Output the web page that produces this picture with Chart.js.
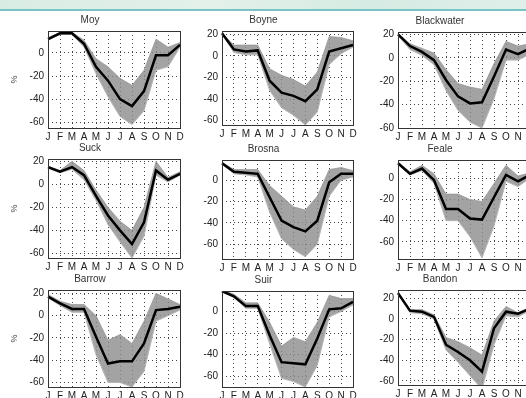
<!DOCTYPE html>
<html lang="en">
<head>
<meta charset="UTF-8">
<title>Monthly change by catchment</title>
<script src="https://cdn.jsdelivr.net/npm/chart.js@4.4.1/dist/chart.umd.min.js"></script>
<style>
    body {
        margin: 0;
        width: 526px;
        height: 398px;
        overflow: hidden;
        background: #fff;
        position: relative;
        font-family: "Liberation Sans", Arial, sans-serif;
    }
    .strip {
        position: absolute;
        left: 0; top: 0;
        width: 526px; height: 9px;
        background: linear-gradient(90deg, #d9ece4, #e3f1ea 40%, #d6ebe3 70%, #dfefe9);
        border-bottom: 2px solid #78c3c5;
    }
    canvas { position: absolute; }
</style>
</head>
<body>
<div class="strip"></div>

<script>
// month labels along every x axis
const months = ['J', 'F', 'M', 'A', 'M', 'J', 'J', 'A', 'S', 'O', 'N', 'D'];
const rivers = ['Moy', 'Boyne', 'Blackwater', 'Suck', 'Brosna', 'Feale', 'Barrow', 'Suir', 'Bandon'];

// black line (ensemble reference), % change per month
const moyMean        = [12, 17, 17, 8, -12, -24, -40, -46, -33, -2, -2, 7];
const boyneMean      = [21, 6, 4, 5, -23, -34, -37, -42, -31, 4, 7, 10];
const blackwaterMean = [20, 10, 5, -2, -19, -33, -39, -38, -16, 7, 3, 8];
const suckMean       = [15, 11, 15, 8, -10, -27, -40, -52, -33, 12, 4, 9];
const brosnaMean     = [16, 8, 7, 6, -16, -38, -44, -48, -38, -2, 6, 6];
const fealeMean      = [14, 4, 9, -2, -29, -29, -38, -39, -18, 3, -3, 3];
const barrowMean     = [17, 11, 6, 6, -19, -43, -41, -41, -25, 5, 6, 8];
const suirMean       = [19, 14, 5, 5, -22, -47, -48, -49, -25, 2, 3, 9];
const bandonMean     = [25, 8, 7, 2, -25, -32, -40, -51, -9, 7, 5, 10];

// upper / lower edges of the grey ensemble bundle
const moyUpper        = [13, 18, 18, 11, -5, -12, -22, -28, -15, 12, 5, 9];
const moyLower        = [11, 16, 16, 5, -18, -38, -55, -62, -50, -15, -12, 5];
const boyneUpper      = [21, 10, 10, 10, -12, -18, -22, -28, -15, 18, 17, 14];
const boyneLower      = [20, 3, 1, 1, -32, -48, -55, -64, -52, -8, 2, 8];
const blackwaterUpper = [21, 12, 8, 4, -10, -22, -25, -27, -5, 14, 10, 12];
const blackwaterLower = [19, 7, 2, -6, -28, -45, -55, -60, -35, -2, -2, 3];
const suckUpper       = [16, 12, 20, 12, -5, -20, -32, -40, -20, 20, 6, 11];
const suckLower       = [14, 10, 13, 4, -14, -35, -50, -64, -45, 8, 2, 8];
const brosnaUpper     = [17, 10, 10, 10, -5, -15, -25, -28, -15, 10, 12, 9];
const brosnaLower     = [15, 6, 5, 3, -30, -55, -65, -72, -60, -15, 0, 3];
const fealeUpper      = [15, 6, 12, 4, -15, -15, -20, -22, -5, 12, 2, 5];
const fealeLower      = [13, 3, 7, -5, -40, -40, -55, -75, -45, -3, -8, 0];
const barrowUpper     = [19, 13, 10, 10, 0, -22, -17, -25, -5, 20, 15, 10];
const barrowLower     = [16, 9, 3, 3, -35, -60, -60, -64, -50, -5, 0, 5];
const suirUpper       = [20, 16, 8, 8, -10, -32, -24, -28, -10, 15, 12, 12];
const suirLower       = [18, 13, 3, 3, -30, -62, -65, -70, -50, -5, 0, 6];
const bandonUpper     = [26, 9, 9, 4, -18, -22, -28, -35, -2, 12, 6, 11];
const bandonLower     = [24, 6, 5, 0, -30, -42, -55, -68, -25, 3, 2, 8];

// y axis range of each panel
const yMin = [-65, -64, -60, -64, -74, -76, -64, -70, -64];
const yMax = [19, 23, 22, 22, 19, 17, 23, 19, 28];

const means  = [moyMean, boyneMean, blackwaterMean, suckMean, brosnaMean, fealeMean, barrowMean, suirMean, bandonMean];
const uppers = [moyUpper, boyneUpper, blackwaterUpper, suckUpper, brosnaUpper, fealeUpper, barrowUpper, suirUpper, bandonUpper];
const lowers = [moyLower, boyneLower, blackwaterLower, suckLower, brosnaLower, fealeLower, barrowLower, suirLower, bandonLower];

// plot area of each panel on the page: left, top, width, height
const boxes = [
    [48, 31, 132, 97], [222, 31, 131, 94], [398, 32, 132, 96],
    [48, 159, 132, 99], [222, 160, 131, 99], [398, 160, 132, 99],
    [48, 290, 132, 97], [222, 291, 131, 96], [398, 290, 132, 95]
];

const AXIS_W = 48, TITLE_H = 20, XAXIS_H = 16, RIGHT_PAD = 8;
const FONT = '"Liberation Sans", Arial, sans-serif';

// draw the closed MATLAB-style box around the plot area
const frame = {
    id: 'frame',
    afterDatasetsDraw(chart) {
        const a = chart.chartArea, ctx = chart.ctx;
        ctx.save();
        ctx.strokeStyle = '#333';
        ctx.lineWidth = 1;
        ctx.strokeRect(Math.round(a.left) + 0.5, Math.round(a.top) + 0.5,
                       Math.round(a.right - a.left), Math.round(a.bottom - a.top));
        ctx.restore();
    }
};

rivers.forEach((name, i) => {
    const [left, top, w, h] = boxes[i];
    const canvas = document.createElement('canvas');
    const cw = AXIS_W + w + RIGHT_PAD, ch = TITLE_H + h + XAXIS_H;
    canvas.width = cw; canvas.height = ch;
    canvas.style.left = (left - AXIS_W) + 'px';
    canvas.style.top = (top - TITLE_H) + 'px';
    canvas.style.width = cw + 'px';
    canvas.style.height = ch + 'px';
    document.body.appendChild(canvas);

    const firstCol = i % 3 === 0;

    new Chart(canvas, {
        type: 'line',
        data: {
            labels: months,
            datasets: [
                {
                    data: uppers[i],
                    borderColor: '#b8b8b8',
                    borderWidth: 1,
                    pointRadius: 0,
                    fill: false,
                    order: 2
                },
                {
                    data: lowers[i],
                    borderColor: '#b8b8b8',
                    borderWidth: 1,
                    pointRadius: 0,
                    backgroundColor: 'rgba(140,140,140,0.8)',
                    fill: '-1',
                    order: 1
                },
                {
                    // black line sits on top of the grey bundle
                    data: means[i],
                    borderColor: '#000',
                    borderWidth: 2.5,
                    pointRadius: 0,
                    fill: false,
                    order: 0
                }
            ]
        },
        options: {
            responsive: false,
            animation: false,
            layout: { padding: { left: 0, top: 0, bottom: 0, right: RIGHT_PAD } },
            plugins: {
                legend: { display: false },
                tooltip: { enabled: false },
                title: {
                    display: true,
                    text: name,
                    color: '#333',
                    font: { family: FONT, size: 10, weight: 'normal', lineHeight: 1.2 },
                    padding: { top: 3, bottom: 5 }
                }
            },
            scales: {
                x: {
                    offset: false,
                    grid: { color: '#444', lineWidth: 1, drawTicks: false },
                    border: { display: false, dash: [1, 3] },
                    ticks: {
                        color: '#222',
                        padding: 3,
                        autoSkip: false,
                        maxRotation: 0,
                        font: { family: FONT, size: 10 }
                    },
                    afterFit(s) { s.height = XAXIS_H; s.paddingLeft = 0; s.paddingRight = 0; }
                },
                y: {
                    min: yMin[i],
                    max: yMax[i],
                    grid: { color: '#444', lineWidth: 1, drawTicks: false },
                    border: { display: false, dash: [1, 3] },
                    ticks: {
                        stepSize: 20,
                        includeBounds: false,
                        color: '#222',
                        padding: 4,
                        font: { family: FONT, size: 10 }
                    },
                    title: {
                        display: firstCol,
                        text: '%',
                        color: '#444',
                        padding: { top: 9, bottom: 0 },
                        font: { family: FONT, size: 9 }
                    },
                    afterFit(s) { s.width = AXIS_W; s.paddingTop = 0; s.paddingBottom = 0; }
                }
            }
        },
        plugins: [frame]
    });
});
</script>
</body>
</html>
